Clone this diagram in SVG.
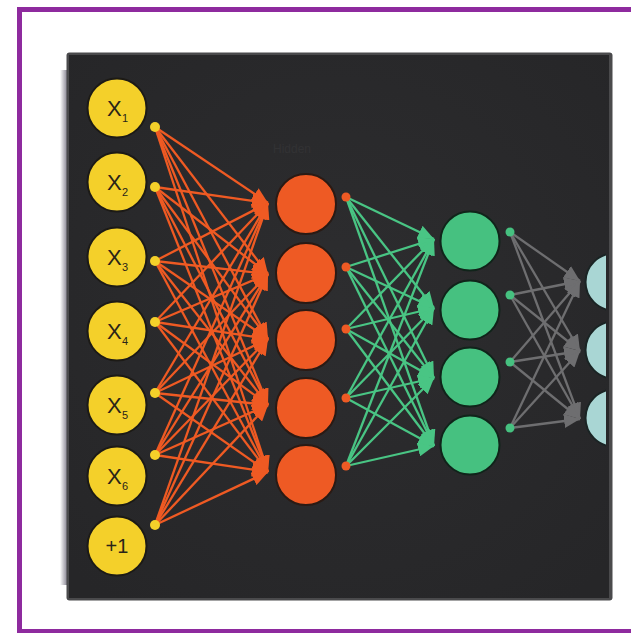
<svg xmlns="http://www.w3.org/2000/svg" width="631" height="633" viewBox="0 0 631 633">
<style>
.lbl{font-family:"Liberation Sans",Arial,sans-serif;fill:#2a2418}
.sub{font-family:"Liberation Sans",Arial,sans-serif;fill:#2a2418;font-size:11px}
.in{fill:#f4d02a;stroke:#1c1a16;stroke-width:2}
.hid1{fill:#ee5a24;stroke:#2a1a14;stroke-width:2}
.hid2{fill:#46c180;stroke:#10241a;stroke-width:2}
.out{fill:#a9d6d4;stroke:#1a2424;stroke-width:2}
.co{stroke:#ef5a23;stroke-width:2.3;marker-end:url(#ao)}
.cg{stroke:#49c584;stroke-width:2.3;marker-end:url(#ag)}
.cy{stroke:#6e6e70;stroke-width:2.3;marker-end:url(#ay)}
.faint{font-family:"Liberation Sans",Arial,sans-serif;fill:#323234}
</style>
<defs>
<marker id="ao" markerUnits="userSpaceOnUse" markerWidth="16" markerHeight="14" refX="16" refY="7" orient="auto"><path d="M0,0 L16,7 L0,14 z" fill="#ef5a23"/></marker>
<marker id="ag" markerUnits="userSpaceOnUse" markerWidth="16" markerHeight="14" refX="16" refY="7" orient="auto"><path d="M0,0 L16,7 L0,14 z" fill="#49c584"/></marker>
<marker id="ay" markerUnits="userSpaceOnUse" markerWidth="16" markerHeight="14" refX="16" refY="7" orient="auto"><path d="M0,0 L16,7 L0,14 z" fill="#6e6e70"/></marker>
<clipPath id="panelclip"><rect x="69" y="55" width="537" height="543"/></clipPath>
<linearGradient id="shadow" x1="0" y1="0" x2="1" y2="0"><stop offset="0" stop-color="#ffffff"/><stop offset="1" stop-color="#8a8794"/></linearGradient>
<radialGradient id="bg" cx="0.5" cy="0.45" r="0.7"><stop offset="0" stop-color="#2d2d2f"/><stop offset="1" stop-color="#262628"/></radialGradient>
</defs>
<rect width="631" height="633" fill="#ffffff"/>
<rect x="19.5" y="9.5" width="700" height="622" fill="none" stroke="#8e2a9e" stroke-width="5"/>
<rect x="60" y="70" width="7" height="515" fill="url(#shadow)"/>
<rect x="66.5" y="52.5" width="546" height="548" rx="3" fill="#4a4a4c"/>
<rect x="69" y="55" width="540" height="543" fill="url(#bg)"/>
<g clip-path="url(#panelclip)">
<text class="faint" x="94" y="52" font-size="16">Input</text>
<text class="faint" x="273" y="153" font-size="12">Hidden</text>
<g id="connectors">
<g id="c-in-h1">
<line class="co" x1="155" y1="127" x2="268" y2="203"/><line class="co" x1="155" y1="127" x2="268" y2="274"/><line class="co" x1="155" y1="127" x2="268" y2="339"/><line class="co" x1="155" y1="127" x2="268" y2="405"/><line class="co" x1="155" y1="127" x2="268" y2="472"/>
<line class="co" x1="155" y1="187" x2="268" y2="203"/><line class="co" x1="155" y1="187" x2="268" y2="274"/><line class="co" x1="155" y1="187" x2="268" y2="339"/><line class="co" x1="155" y1="187" x2="268" y2="405"/><line class="co" x1="155" y1="187" x2="268" y2="472"/>
<line class="co" x1="155" y1="261" x2="268" y2="203"/><line class="co" x1="155" y1="261" x2="268" y2="274"/><line class="co" x1="155" y1="261" x2="268" y2="339"/><line class="co" x1="155" y1="261" x2="268" y2="405"/><line class="co" x1="155" y1="261" x2="268" y2="472"/>
<line class="co" x1="155" y1="322" x2="268" y2="203"/><line class="co" x1="155" y1="322" x2="268" y2="274"/><line class="co" x1="155" y1="322" x2="268" y2="339"/><line class="co" x1="155" y1="322" x2="268" y2="405"/><line class="co" x1="155" y1="322" x2="268" y2="472"/>
<line class="co" x1="155" y1="393" x2="268" y2="203"/><line class="co" x1="155" y1="393" x2="268" y2="274"/><line class="co" x1="155" y1="393" x2="268" y2="339"/><line class="co" x1="155" y1="393" x2="268" y2="405"/><line class="co" x1="155" y1="393" x2="268" y2="472"/>
<line class="co" x1="155" y1="455" x2="268" y2="203"/><line class="co" x1="155" y1="455" x2="268" y2="274"/><line class="co" x1="155" y1="455" x2="268" y2="339"/><line class="co" x1="155" y1="455" x2="268" y2="405"/><line class="co" x1="155" y1="455" x2="268" y2="472"/>
<line class="co" x1="155" y1="525" x2="268" y2="203"/><line class="co" x1="155" y1="525" x2="268" y2="274"/><line class="co" x1="155" y1="525" x2="268" y2="339"/><line class="co" x1="155" y1="525" x2="268" y2="405"/><line class="co" x1="155" y1="525" x2="268" y2="472"/>
</g>
<g id="c-h1-h2">
<line class="cg" x1="346" y1="197" x2="434" y2="239"/><line class="cg" x1="346" y1="197" x2="434" y2="308"/><line class="cg" x1="346" y1="197" x2="434" y2="378"/><line class="cg" x1="346" y1="197" x2="434" y2="446"/>
<line class="cg" x1="346" y1="267" x2="434" y2="239"/><line class="cg" x1="346" y1="267" x2="434" y2="308"/><line class="cg" x1="346" y1="267" x2="434" y2="378"/><line class="cg" x1="346" y1="267" x2="434" y2="446"/>
<line class="cg" x1="346" y1="329" x2="434" y2="239"/><line class="cg" x1="346" y1="329" x2="434" y2="308"/><line class="cg" x1="346" y1="329" x2="434" y2="378"/><line class="cg" x1="346" y1="329" x2="434" y2="446"/>
<line class="cg" x1="346" y1="398" x2="434" y2="239"/><line class="cg" x1="346" y1="398" x2="434" y2="308"/><line class="cg" x1="346" y1="398" x2="434" y2="378"/><line class="cg" x1="346" y1="398" x2="434" y2="446"/>
<line class="cg" x1="346" y1="466" x2="434" y2="239"/><line class="cg" x1="346" y1="466" x2="434" y2="308"/><line class="cg" x1="346" y1="466" x2="434" y2="378"/><line class="cg" x1="346" y1="466" x2="434" y2="446"/>
</g>
<g id="c-h2-out">
<line class="cy" x1="510" y1="232" x2="580" y2="281"/><line class="cy" x1="510" y1="232" x2="580" y2="351"/><line class="cy" x1="510" y1="232" x2="580" y2="419"/>
<line class="cy" x1="510" y1="295" x2="580" y2="281"/><line class="cy" x1="510" y1="295" x2="580" y2="351"/><line class="cy" x1="510" y1="295" x2="580" y2="419"/>
<line class="cy" x1="510" y1="362" x2="580" y2="281"/><line class="cy" x1="510" y1="362" x2="580" y2="351"/><line class="cy" x1="510" y1="362" x2="580" y2="419"/>
<line class="cy" x1="510" y1="428" x2="580" y2="281"/><line class="cy" x1="510" y1="428" x2="580" y2="351"/><line class="cy" x1="510" y1="428" x2="580" y2="419"/>
</g>
</g>
<g id="input-layer">
<g id="x1"><circle class="in" cx="117" cy="108" r="29.5"/><text class="lbl" x="107" y="116" font-size="22">X</text><text class="sub" x="122" y="122">1</text><circle cx="155" cy="127" r="5" fill="#f4d02a"/></g>
<g id="x2"><circle class="in" cx="117" cy="182" r="29.5"/><text class="lbl" x="107" y="190" font-size="22">X</text><text class="sub" x="122" y="196">2</text><circle cx="155" cy="187" r="5" fill="#f4d02a"/></g>
<g id="x3"><circle class="in" cx="117" cy="257" r="29.5"/><text class="lbl" x="107" y="265" font-size="22">X</text><text class="sub" x="122" y="271">3</text><circle cx="155" cy="261" r="5" fill="#f4d02a"/></g>
<g id="x4"><circle class="in" cx="117" cy="331" r="29.5"/><text class="lbl" x="107" y="339" font-size="22">X</text><text class="sub" x="122" y="345">4</text><circle cx="155" cy="322" r="5" fill="#f4d02a"/></g>
<g id="x5"><circle class="in" cx="117" cy="405" r="29.5"/><text class="lbl" x="107" y="413" font-size="22">X</text><text class="sub" x="122" y="419">5</text><circle cx="155" cy="393" r="5" fill="#f4d02a"/></g>
<g id="x6"><circle class="in" cx="117" cy="476" r="29.5"/><text class="lbl" x="107" y="484" font-size="22">X</text><text class="sub" x="122" y="490">6</text><circle cx="155" cy="455" r="5" fill="#f4d02a"/></g>
<g id="bias"><circle class="in" cx="117" cy="546" r="29.5"/><text class="lbl" x="117" y="553" font-size="20" text-anchor="middle">+1</text><circle cx="155" cy="525" r="5" fill="#f4d02a"/></g>
</g>
<g id="hidden-layer-1">
<g id="h1-1"><circle class="hid1" cx="306" cy="204" r="30"/><circle cx="346" cy="197" r="4.5" fill="#ee5a24"/></g>
<g id="h1-2"><circle class="hid1" cx="306" cy="273" r="30"/><circle cx="346" cy="267" r="4.5" fill="#ee5a24"/></g>
<g id="h1-3"><circle class="hid1" cx="306" cy="340" r="30"/><circle cx="346" cy="329" r="4.5" fill="#ee5a24"/></g>
<g id="h1-4"><circle class="hid1" cx="306" cy="408" r="30"/><circle cx="346" cy="398" r="4.5" fill="#ee5a24"/></g>
<g id="h1-5"><circle class="hid1" cx="306" cy="475" r="30"/><circle cx="346" cy="466" r="4.5" fill="#ee5a24"/></g>
</g>
<g id="hidden-layer-2">
<g id="h2-1"><circle class="hid2" cx="470" cy="241" r="29.5"/><circle cx="510" cy="232" r="4.5" fill="#46c180"/></g>
<g id="h2-2"><circle class="hid2" cx="470" cy="310" r="29.5"/><circle cx="510" cy="295" r="4.5" fill="#46c180"/></g>
<g id="h2-3"><circle class="hid2" cx="470" cy="377" r="29.5"/><circle cx="510" cy="362" r="4.5" fill="#46c180"/></g>
<g id="h2-4"><circle class="hid2" cx="470" cy="445" r="29.5"/><circle cx="510" cy="428" r="4.5" fill="#46c180"/></g>
</g>
<g id="output-layer">
<g id="o1"><circle class="out" cx="614" cy="282" r="28.5"/></g>
<g id="o2"><circle class="out" cx="614" cy="350" r="28.5"/></g>
<g id="o3"><circle class="out" cx="614" cy="418" r="28.5"/></g>
</g>
</g>
</svg>
